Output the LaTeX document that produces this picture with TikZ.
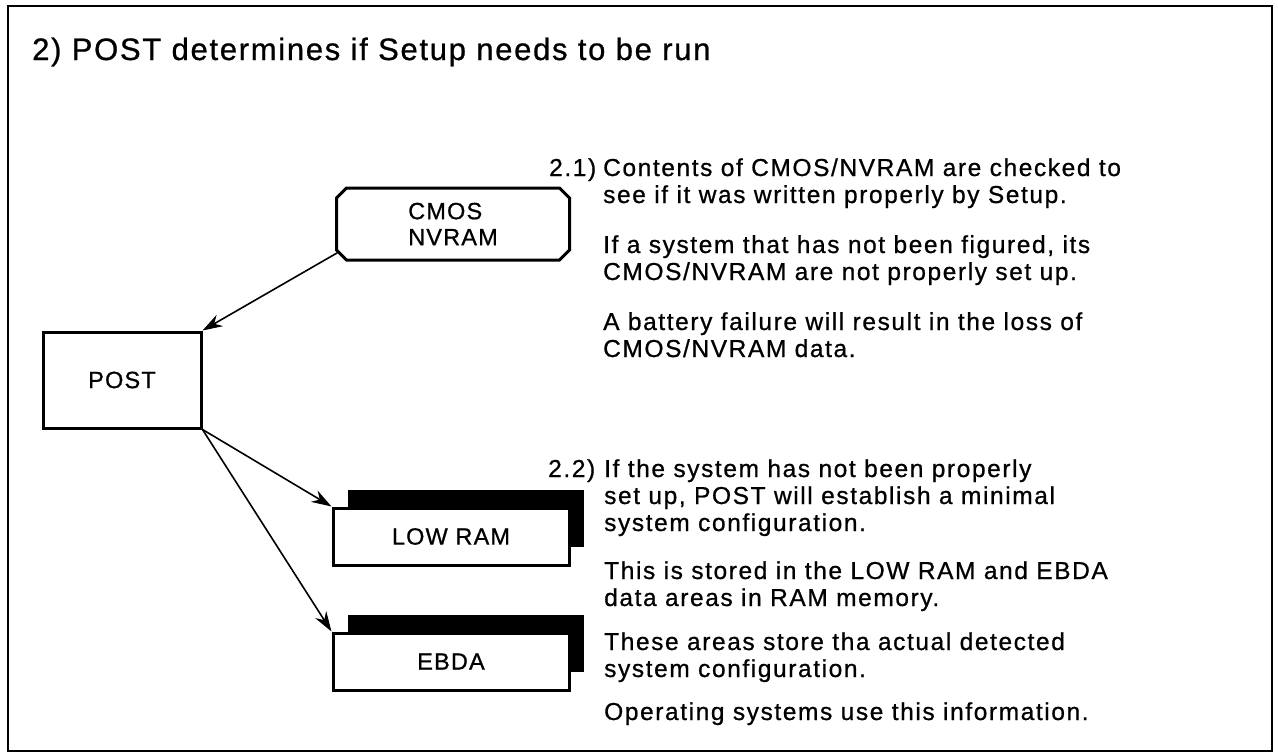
\documentclass[tikz,border=0pt]{standalone}
\usepackage{fontspec}
\setmainfont{Liberation Sans}
\usetikzlibrary{arrows.meta, shapes.misc, shadows}
\tikzset{
>={Stealth[length=20pt,width=13pt]},
  boxfont/.style={font=\fontsize{23.5}{26}\selectfont\addfontfeature{LetterSpace=5,FakeBold=0.8}},
  bodytext/.style={
    font=\fontsize{24.5}{27}\selectfont\addfontfeature{LetterSpace=6.5,FakeBold=0.8},
    inner sep=0pt,
    anchor=base west},
  postbox/.style={
    rectangle,
    draw=black, line width=3pt,
    minimum width=158pt,
    minimum height=96pt,
    boxfont},
  cmosbox/.style={
    chamfered rectangle,
    chamfered rectangle xsep=5pt,
    chamfered rectangle ysep=5pt,
    draw=black, line width=3pt,
    minimum width=233pt,
    minimum height=72pt,
    align=left,
    boxfont},
  rambox/.style={
    rectangle,
    draw=black, line width=3pt,
    fill=white,
    minimum width=236pt,
    minimum height=57pt,
    boxfont,
    drop shadow={shadow xshift=15pt, shadow yshift=18pt, fill=black, opacity=1}},
  line/.style={draw, line width=1.6pt, ->},
}

\begin{document}
\begin{tikzpicture}[x=1pt,y=-1pt]
\useasboundingbox (0,0) rectangle (1278,755);
\draw[line width=2pt] (8,6) rectangle (1272,751);
\node[anchor=base west, inner sep=0pt, font=\fontsize{31}{36}\selectfont\addfontfeature{LetterSpace=5.5,FakeBold=0.8}] (title) at (32,60) {2) POST determines if Setup needs to be run};

\node[cmosbox] (cmos) at (453,224) {CMOS\\NVRAM};
\node[postbox] (post) at (122,380) {POST};
\foreach \nm/\txt/\y in {lowram/LOW RAM/536.5, ebda/EBDA/661.5}{
    \node[rambox] (\nm) at (451,\y) {\txt};
    \path[line] (post.south east) -- (\nm.north west);
    }
\path[line] (cmos.194) -- (post.north east);

% notes on the right
\node[bodytext] (n21) at (549,176) {2.1)};
\node[bodytext] (t21) at (603,176) {\begin{tabular}[t]{@{}l@{}}
  Contents of CMOS/NVRAM are checked to\\
  see if it was written properly by Setup.\\[23pt]
  If a system that has not been figured, its\\
  CMOS/NVRAM are not properly set up.\\[23pt]
  A battery failure will result in the loss of\\
  CMOS/NVRAM data.
  \end{tabular}};
\node[bodytext] (n22) at (548,477) {2.2)};
\node[bodytext] (t22) at (604,477) {\begin{tabular}[t]{@{}l@{}}
  If the system has not been properly\\
  set up, POST will establish a minimal\\
  system configuration.\\[21pt]
  This is stored in the LOW RAM and EBDA\\
  data areas in RAM memory.\\[17pt]
  These areas store tha actual detected\\
  system configuration.\\[16pt]
  Operating systems use this information.
  \end{tabular}};
\end{tikzpicture}
\end{document}
